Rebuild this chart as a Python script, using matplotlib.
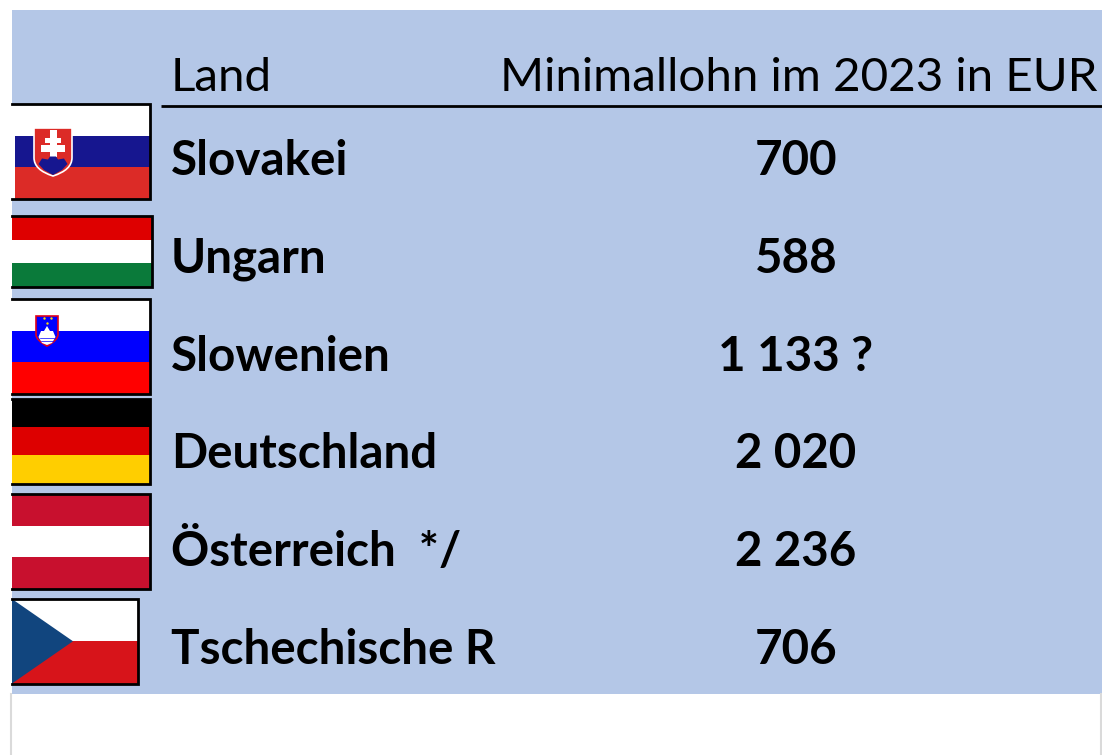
#!/usr/bin/env python3
"""Minimum wage table with flags, drawn on a pixel grid."""

import matplotlib
matplotlib.use('Agg')
import matplotlib.pyplot as plt
from matplotlib.patches import Rectangle, Polygon, PathPatch
from matplotlib.path import Path

plt.rcParams['font.family'] = ['Lato', 'DejaVu Sans']

# Data
header_country = 'Land'
header_value = 'Minimallohn im 2023 in EUR'
countries = ['Slovakei', 'Ungarn', 'Slowenien', 'Deutschland', 'Österreich  */', 'Tschechische R']
wages = ['700', '588', '1 133 ?', '2 020', '2 236', '706']
flag_keys = ['sk', 'hu', 'si', 'de', 'at', 'cz']
stripe_colors = {
    'sk': ['#FFFFFF', '#16168F', '#DC2B27'],
    'hu': ['#DE0000', '#FFFFFF', '#0A7A3A'],
    'si': ['#FFFFFF', '#0000FF', '#FF0000'],
    'de': ['#000000', '#DD0000', '#FFCE00'],
    'at': ['#C8102E', '#FFFFFF', '#C8102E'],
    'cz': ['#FFFFFF', '#D7141A'],
}

# Layout in pixels
W, H = 1102, 755
BG = '#B4C7E7'
FONT = 34.2
row_y = [161, 259, 357, 454, 552, 650]
flag_box = {
    'sk': (12, 149.5, 104, 198.5),
    'hu': (12, 151.5, 216, 286.5),
    'si': (12, 149.5, 299, 393.5),
    'de': (12, 149.5, 398.5, 483.5),
    'at': (12, 149.5, 494, 588.5),
    'cz': (12, 137.5, 599, 683.5),
}

fig = plt.figure(figsize=(W / 100, H / 100), dpi=100)
ax = fig.add_axes([0, 0, 1, 1])
ax.set_xlim(0, W)
ax.set_ylim(H, 0)
ax.axis('off')

# Panel and the grey edges underneath
ax.add_patch(Rectangle((12, 10), W - 12, 684, fc=BG, ec='none', zorder=1))
ax.plot([11, 11], [694, H], color='#DADADA', lw=1.5, zorder=1)
ax.plot([1100.5, 1100.5], [694, H], color='#DADADA', lw=1.5, zorder=1)


def shield(x0, x1, y0, y1, fill, edge):
    xm = (x0 + x1) / 2
    ym = y0 + (y1 - y0) * 0.62
    verts = [(x0, y0), (x1, y0), (x1, ym), (x1, y1 - 6), (xm, y1), (xm, y1),
             (x0, y1 - 6), (x0, ym), (x0, y0), (x0, y0)]
    codes = [Path.MOVETO, Path.LINETO, Path.LINETO, Path.CURVE3, Path.CURVE3, Path.LINETO,
             Path.CURVE3, Path.CURVE3, Path.LINETO, Path.CLOSEPOLY]
    ax.add_patch(PathPatch(Path(verts, codes), fc=fill, ec=edge, lw=1.2, zorder=4))


def draw_flag(key):
    x0, x1, y0, y1 = flag_box[key]
    colors = stripe_colors[key]
    h = (y1 - y0) / len(colors)
    for i, c in enumerate(colors):
        ax.add_patch(Rectangle((x0, y0 + i * h), x1 - x0, h, fc=c, ec='none', zorder=2))
    if key == 'cz':
        ax.add_patch(Polygon([(x0, y0), (73, (y0 + y1) / 2), (x0, y1)], fc='#11457E', ec='none', zorder=3))
    if key == 'sk':
        ax.add_patch(Rectangle((x0, y0), 3, y1 - y0, fc='white', ec='none', zorder=3))
        shield(34, 72, 128, 176, '#DC2B27', 'white')
        # double cross
        ax.add_patch(Rectangle((49.5, 130), 7, 27, fc='white', ec='none', zorder=5))
        ax.add_patch(Rectangle((45, 137.5), 16, 5.5, fc='white', ec='none', zorder=5))
        ax.add_patch(Rectangle((41, 145), 24, 6.5, fc='white', ec='none', zorder=5))
        # blue hills
        bump = Path([(38.5, 164), (42, 158.5), (48, 159.5), (50, 156.5), (56, 156.5), (58, 159.5), (64, 158.5),
                     (67.5, 164), (62, 170), (53, 175), (44, 170), (38.5, 164)],
                    [Path.MOVETO] + [Path.LINETO] * 10 + [Path.CLOSEPOLY])
        ax.add_patch(PathPatch(bump, fc='#16168F', ec='none', zorder=5))
    if key == 'si':
        shield(36, 58, 316, 346, '#0000FF', '#E0001A')
        mountain = Polygon([(38.5, 337), (41, 331), (44, 331), (47, 326), (50, 331), (53, 331), (55.5, 337),
                            (52, 343), (47, 345), (42, 343)], fc='white', ec='none', zorder=5)
        ax.add_patch(mountain)
        ax.plot([40, 54], [338, 338], color='#0000FF', lw=0.5, zorder=6)
        ax.plot([41, 53], [341, 341], color='#0000FF', lw=0.5, zorder=6)
        ax.scatter([43.5, 50.5, 47], [318, 318, 323], s=3, color='#FFDD00', marker='o', linewidths=0, zorder=6)
    # black frame, open on the left
    ax.plot([x0, x1, x1, x0], [y0, y0, y1, y1], color='black', lw=2.0, solid_joinstyle='miter', zorder=6)


for key in flag_keys:
    draw_flag(key)

# Header
ax.plot([161, W], [105.5, 105.5], color='black', lw=2.0, zorder=3, solid_capstyle='butt')
ax.text(171, 78, header_country, fontsize=FONT, color='black', va='center', ha='left')
ax.text(1097, 78, header_value, fontsize=FONT, color='black', va='center', ha='right')

# Rows
for country, wage, y in zip(countries, wages, row_y):
    ax.text(171, y, country, fontsize=FONT, fontweight='bold', color='black', va='center', ha='left')
    ax.text(796, y, wage, fontsize=FONT, fontweight='bold', color='black', va='center', ha='center')

fig.savefig('out.png', dpi=100, facecolor='white')
